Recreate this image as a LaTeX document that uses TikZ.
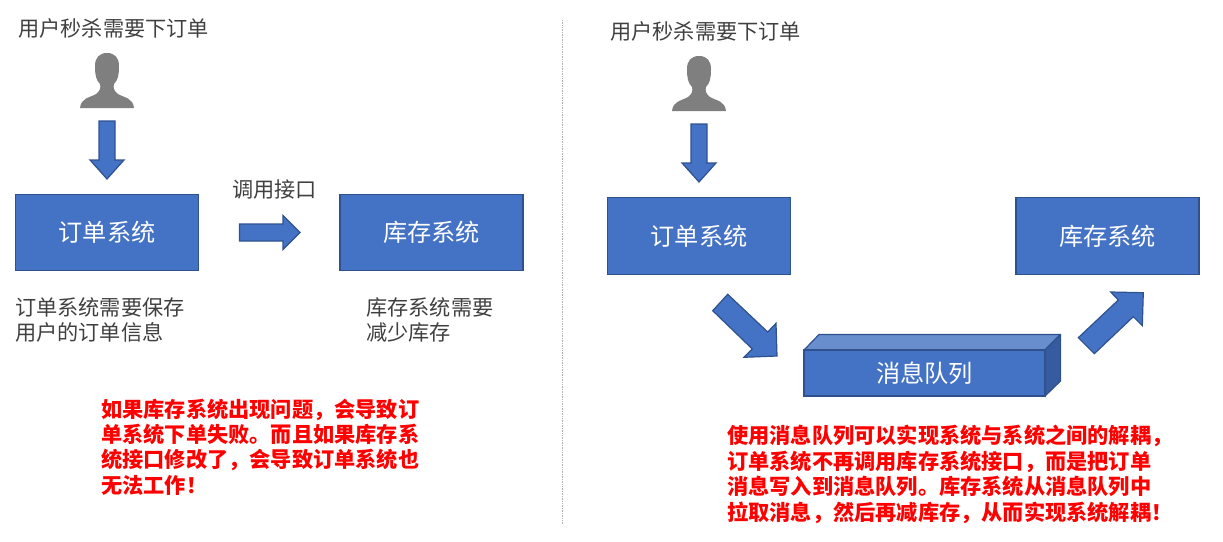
\documentclass[tikz,border=0pt]{standalone}
\usepackage{fontspec}
\setmainfont{Noto Sans CJK SC}
\usetikzlibrary{positioning}
\definecolor{fillblue}{HTML}{4472C4}
\definecolor{edgeblue}{HTML}{2F528F}
\definecolor{topblue}{HTML}{698ECE}
\definecolor{sideblue}{HTML}{365B9E}
\definecolor{icongray}{HTML}{7F7F7F}
\definecolor{txtgray}{HTML}{404040}
\tikzset{
 x=1pt,y=-1pt,
 sysbox/.style={draw=edgeblue,line width=1.4pt,fill=fillblue,text=white,minimum width=183pt,minimum height=76.5pt,inner sep=0pt,font=\fontsize{24.2}{29}\selectfont},
 blockarrow/.style={draw=edgeblue,line width=1.2pt,fill=fillblue,line join=miter},
 note/.style={text=txtgray,anchor=west,align=left,inner sep=0pt,font=\fontsize{21.2}{25.5}\selectfont},
 warn/.style={text=red,anchor=west,align=left,inner sep=0pt,font=\fontsize{21.2}{25.4}\selectfont\bfseries},
 person/.pic={
  \fill[icongray] (27,0) .. controls (19,0) and (15,5) .. (15,13)
   .. controls (15,22) and (16,27) .. (20,31) .. controls (21,35) and (20,38) .. (16,41)
   .. controls (9,45) and (1,45) .. (0,55) -- (54,55)
   .. controls (53,45) and (45,45) .. (38,41) .. controls (34,38) and (33,35) .. (34,31)
   .. controls (38,27) and (39,22) .. (39,13) .. controls (39,5) and (35,0) .. (27,0) -- cycle;
 }
}
\begin{document}
\begin{tikzpicture}
\useasboundingbox (0,0) rectangle (1223,541);
\draw[black!30,line width=0.7pt,densely dotted] (562,20) -- (562,524);

% left part
\node[note] (ltitle) at (18,28) {用户秒杀需要下订单};
\pic at (80,53) {person};
\draw[blockarrow] (99,121) -- (115,121) -- (115,160) -- (124,160) -- (107,179) -- (90,160) -- (99,160) -- cycle;
\node[sysbox] (lorder) at (107,232.5) {订单系统};
\node[sysbox] (lstock) at (431.5,232.5) {库存系统};
\node[note] (lcall) at (232,190) {调用接口};
\draw[blockarrow] (239.5,224) -- (283,224) -- (283,215.5) -- (300,232.5) -- (283,249.5) -- (283,241) -- (239.5,241) -- cycle;
\node[note] (lnote1) at (15,320) {订单系统需要保存\\用户的订单信息};
\node[note] (lnote2) at (366,320) {库存系统需要\\减少库存};
\node[warn] (lwarn) at (101,447) {如果库存系统出现问题，会导致订\\单系统下单失败。而且如果库存系\\统接口修改了，会导致订单系统也\\无法工作！};

% right part
\node[note] (rtitle) at (610,31) {用户秒杀需要下订单};
\pic at (672,56) {person};
\draw[blockarrow] (691,124) -- (707,124) -- (707,163) -- (716,163) -- (699,182) -- (682,163) -- (691,163) -- cycle;
\node[sysbox] (rorder) at (699,236) {订单系统};
\node[sysbox] (rstock) at (1107.5,236) {库存系统};
\draw[blockarrow] (727.7,294.3) -- (767.7,332) -- (776,323.3) -- (777,356) -- (744,357.3) -- (752.3,349) -- (712.7,310.7) -- cycle;
\draw[blockarrow] (1078.3,337.7) -- (1118.3,300) -- (1110.7,292) -- (1143.3,292.7) -- (1142.3,325.7) -- (1133.3,316.7) -- (1094.3,353.7) -- cycle;
% message queue cuboid
\draw[draw=edgeblue,line width=1.2pt,fill=topblue,line join=round] (804,350) -- (819,334.5) -- (1060.5,334.5) -- (1045,350) -- cycle;
\draw[draw=edgeblue,line width=1.2pt,fill=sideblue,line join=round] (1045,350) -- (1060.5,334.5) -- (1060.5,381) -- (1045,396) -- cycle;
\node[draw=edgeblue,line width=1.2pt,fill=fillblue,text=white,minimum width=241pt,minimum height=46pt,inner sep=0pt,font=\fontsize{24.2}{29}\selectfont] (queue) at (924.5,373) {消息队列};
\node[warn] (rwarn) at (727,474.5) {使用消息队列可以实现系统与系统之间的解耦，\\订单系统不再调用库存系统接口，而是把订单\\消息写入到消息队列。库存系统从消息队列中\\拉取消息，然后再减库存，从而实现系统解耦！};
\end{tikzpicture}
\end{document}
